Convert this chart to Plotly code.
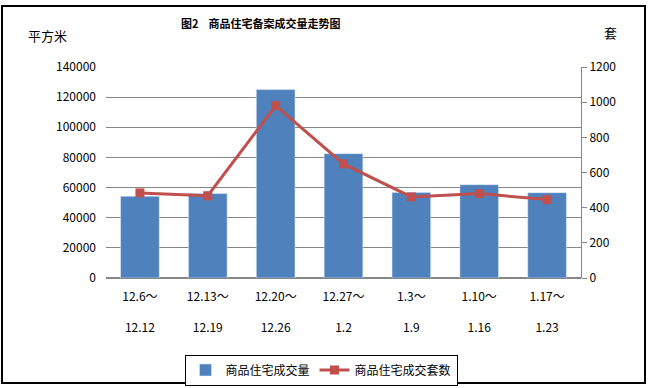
import plotly.graph_objects as go

cats_top = ["12.6～", "12.13～", "12.20～", "12.27～", "1.3～", "1.10～", "1.17～"]
cats_bot = ["12.12", "12.19", "12.26", "1.2", "1.9", "1.16", "1.23"]
area = [54200, 56000, 125000, 82500, 56800, 61900, 56600]
units = [484, 468, 980, 649, 461, 480, 446]

x = list(range(len(cats_top)))
ticktext = [f"{a}<br><br>{b}" for a, b in zip(cats_top, cats_bot)]

FONT = "Noto Sans CJK SC, sans-serif"
fig = go.Figure()
fig.add_trace(go.Bar(x=x, y=area, name="商品住宅成交量", marker_color="#4F81BD",
                     yaxis="y"))
fig.add_trace(go.Scatter(x=x, y=units, name="商品住宅成交套数", yaxis="y2",
                         mode="lines+markers",
                         line=dict(color="#C0504D", width=3),
                         marker=dict(symbol="square", size=9, color="#C0504D")))

L, R, T, B = 106, 69, 67, 110
W, H = 650, 388
pw, ph = W - L - R, H - T - B
def px(xp): return (xp - L) / pw
def py(yp): return (H - B - yp) / ph

fig.update_layout(
    width=W, height=H, margin=dict(l=L, r=R, t=T, b=B, autoexpand=False),
    paper_bgcolor="white", plot_bgcolor="white",
    font=dict(family=FONT, size=12, color="black"),
    bargap=0.43,
    showlegend=True,
    legend=dict(orientation="h", xref="container", yref="container",
                x=321 / W, xanchor="center", y=1 - 370 / H, yanchor="middle",
                bordercolor="black", borderwidth=1, font=dict(size=12),
                tracegroupgap=0),
    xaxis=dict(tickmode="array", tickvals=x, ticktext=ticktext, range=[-0.5, 6.5],
               showgrid=False, showline=False, ticks="", tickfont=dict(size=12),
               ticklabelstandoff=10, automargin=False),
    yaxis=dict(range=[0, 140000], dtick=20000, showgrid=True, gridcolor="#868686",
               gridwidth=1, showline=False, ticks="", ticklabelstandoff=9,
               zeroline=True, zerolinecolor="#868686", tickformat="d", automargin=False),
    yaxis2=dict(range=[0, 1200], dtick=200, overlaying="y", side="right",
                showgrid=False, showline=True, linecolor="#868686",
                ticks="outside", ticklen=5, tickcolor="#868686", zeroline=False,
                automargin=False),
    shapes=[dict(type="rect", xref="paper", yref="paper",
                 x0=px(2), x1=px(645), y0=py(383), y1=py(6),
                 line=dict(color="black", width=2), layer="above")],
    annotations=[
        dict(text="<b>图2    商品住宅备案成交量走势图</b>", xref="paper", yref="paper",
             x=px(260), y=py(23), xanchor="center", yanchor="middle",
             showarrow=False, font=dict(size=11)),
        dict(text="平方米", xref="paper", yref="paper", x=px(47), y=py(35),
             xanchor="center", yanchor="middle", showarrow=False, font=dict(size=13)),
        dict(text="套", xref="paper", yref="paper", x=px(610), y=py(33),
             xanchor="center", yanchor="middle", showarrow=False, font=dict(size=13)),
    ],
)
fig.write_html("out.html", post_script="document.body.style.margin='0px';",
               config={"displayModeBar": False})
